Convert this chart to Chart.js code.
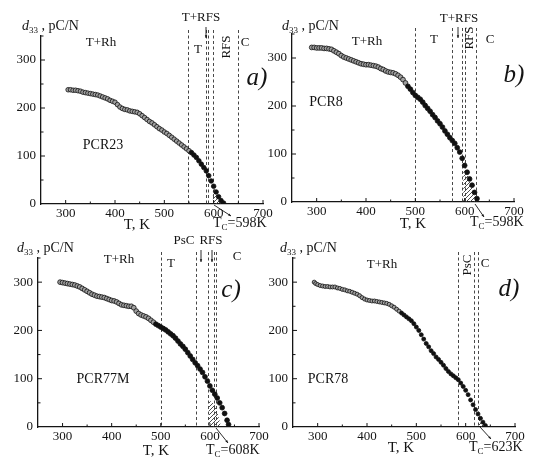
<!DOCTYPE html>
<html><head><meta charset="utf-8">
<script src="https://cdn.jsdelivr.net/npm/chart.js@4/dist/chart.umd.min.js"></script>
<style>
html,body{margin:0;padding:0;background:#fff;}
#wrap{position:relative;width:550px;height:465px;overflow:hidden;background:#fff;}
#wrap canvas{position:absolute;left:0;top:0;}
</style>
</head><body>
<div id="wrap">
<canvas id="pa" width="550" height="465"></canvas>
<canvas id="pb" width="550" height="465"></canvas>
<canvas id="pc" width="550" height="465"></canvas>
<canvas id="pd" width="550" height="465"></canvas>
</div>
<script>
// ---------- DATA ----------
const xTicksMin = 250, xTicksMax = 700, yTicksMax = 350;

// a) PCR23
const tA = [305,310,315,320,325,330,335,340,345,350,355,360,365,370,375,380,385,390,395,400,405,410,415,420,425,430,435,440,445,450,455,460,465,470,475,480,485,490,495,500,505,510,515,520,525,530,535,540,545,550,555,560,565,570,575,580,585,590,595,600,605,610,615,620];
const dA = [238,238,237,237,236,235,233,232,231,230,229,228,227,225,223,221,219,216,214,212,207,202,199,197,196,194,193,192,191,188,184,180,176,172,169,165,161,157,154,150,147,143,139,135,131,127,123,119,115,111,107,102,97,90,83,76,69,59,48,37,25,15,7,2];
const hatchTA = [598,602,606,610,614,618,621];
const hatchDA = [38,31,22,14,8,3,0];
const linesA = [548,584,589,599,650];

// b) PCR8
const tB = [290,295,300,305,310,315,320,325,330,335,340,345,350,355,360,365,370,375,380,385,390,395,400,405,410,415,420,425,430,435,440,445,450,455,460,465,470,475,480,485,490,495,500,505,510,515,520,525,530,535,540,545,550,555,560,565,570,575,580,585,590,595,600,605,610,615,620,625];
const dB = [322,322,321,321,321,320,320,319,318,315,312,309,305,302,300,298,296,294,292,290,288,287,286,286,285,284,283,281,278,276,273,271,270,269,267,264,260,255,248,241,235,228,222,218,214,208,201,195,189,182,176,169,163,156,148,141,134,128,122,113,104,91,76,62,48,35,20,7];
const hatchTB = [597,601,605,609,613,617,621,625,626];
const hatchDB = [70,66,58,48,38,27,15,3,0];
const linesB = [500,574,594,600,623];

// c) PCR77M
const tC = [295,300,305,310,315,320,325,330,335,340,345,350,355,360,365,370,375,380,385,390,395,400,405,410,415,420,425,430,435,440,445,450,455,460,465,470,475,480,485,490,495,500,505,510,515,520,525,530,535,540,545,550,555,560,565,570,575,580,585,590,595,600,605,610,615,620,625,630,635,638];
const dC = [300,299,298,297,296,295,294,292,290,287,284,281,278,275,273,271,270,269,268,266,264,262,261,259,256,253,252,251,250,250,247,240,235,232,230,228,225,221,217,213,210,207,204,201,197,193,189,184,178,172,167,161,154,147,140,133,127,120,113,104,95,85,76,68,60,50,40,28,14,5];
const hatchTC = [598,604,610,615,620,623];
const hatchDC = [55,52,45,32,12,0];
const linesC = [500,571,597,608,612];

// d) PCR78
const tD = [293,296,300,305,310,315,320,325,330,335,340,345,350,355,360,365,370,375,380,385,390,395,400,405,410,415,420,425,430,435,440,445,450,455,460,465,470,475,480,485,490,495,500,505,510,515,520,525,530,535,540,545,550,555,560,565,570,575,580,585,590,595,600,605,610,615,620,625,630,635,640];
const dD = [300,297,295,293,292,291,291,290,290,290,288,287,285,284,282,281,279,277,275,272,268,265,263,262,261,261,260,259,258,257,256,254,251,248,244,240,236,232,228,224,220,214,207,200,191,182,173,166,158,152,145,140,134,128,121,115,110,106,102,98,91,84,76,67,56,46,36,27,18,10,3];
const hatchTD = [627,631,635,639,642];
const hatchDD = [18,14,9,4,0];
const linesD = [585,617,625];

// ---------- DRAWING ----------
const FONT = '"Liberation Serif", "Times New Roman", serif';
const INK = '#141414';
const YW = 36, XH = 20;

function hatchPattern(){
  const c = document.createElement('canvas'); c.width = 4; c.height = 4;
  const g = c.getContext('2d');
  g.strokeStyle = '#3a3a3a'; g.lineWidth = 0.9;
  g.beginPath();
  for (const k of [-4,0,4]) { g.moveTo(k,4); g.lineTo(k+4,0); }
  g.stroke();
  return g.createPattern(c,'repeat');
}

function txt(ctx, s, x, y, o){
  o = o || {};
  ctx.save();
  ctx.font = (o.italic?'italic ':'') + (o.size||13) + 'px ' + FONT;
  ctx.fillStyle = INK;
  ctx.textAlign = o.align || 'center';
  ctx.textBaseline = o.base || 'middle';
  if (o.rot){ ctx.translate(x,y); ctx.rotate(-Math.PI/2); ctx.fillText(s,0,0); }
  else ctx.fillText(s,x,y);
  ctx.restore();
}
function runs(ctx, x, y, parts){
  ctx.save();
  ctx.fillStyle = INK; ctx.textAlign='left'; ctx.textBaseline='alphabetic';
  for (const p of parts){
    ctx.font = (p.italic?'italic ':'') + p.size + 'px ' + FONT;
    ctx.fillText(p.t, x, y + (p.dy||0));
    x += ctx.measureText(p.t).width;
  }
  ctx.restore();
}
function arrow(ctx, x1,y1,x2,y2, head){
  head = head || 3.5;
  ctx.save();
  ctx.strokeStyle = INK; ctx.fillStyle = INK; ctx.lineWidth = 0.9;
  ctx.beginPath(); ctx.moveTo(x1,y1); ctx.lineTo(x2,y2); ctx.stroke();
  const a = Math.atan2(y2-y1, x2-x1);
  ctx.beginPath();
  ctx.moveTo(x2,y2);
  ctx.lineTo(x2 - head*Math.cos(a-0.4), y2 - head*Math.sin(a-0.4));
  ctx.lineTo(x2 - head*Math.cos(a+0.4), y2 - head*Math.sin(a+0.4));
  ctx.closePath(); ctx.fill();
  ctx.restore();
}

const panels = [
  { id:'pa', t:tA, d:dA, ht:hatchTA, hd:hatchDA, vl:linesA, dark:555, r:2.3,
    L:41, R:263, T:36, B:204,
    d33:[22,30], tk:[137,229], tc:[213,227,'=598K'], tcLine:[214,205,231,216],
    labels:[['T+Rh',101,43],['T+RFS',201,18],['T',198,50],['RFS',227,47,1],['C',245,43]],
    arrows:[[206,27,206,38]], tag:['a)',257,78], name:['PCR23',103,145] },
  { id:'pb', t:tB, d:dB, ht:hatchTB, hd:hatchDB, vl:linesB, dark:485, r:2.4,
    L:292, R:514, T:34, B:202,
    d33:[282,30], tk:[413,228], tc:[470,226,'=598K'], tcLine:[475,204,484,217],
    labels:[['T+Rh',367,42],['T',434,40],['T+RFS',459,19],['RFS',470,38,1],['C',490,40]],
    arrows:[[458,27,458,38]], tag:['b)',514,75], name:['PCR8',326,102] },
  { id:'pc', t:tC, d:dC, ht:hatchTC, hd:hatchDC, vl:linesC, dark:490, r:2.4,
    L:38, R:259, T:258, B:427,
    d33:[17,252], tk:[156,455], tc:[206,454,'=608K'], tcLine:[216,428,228,443],
    labels:[['T+Rh',119,260],['T',171,264],['PsC',184,241],['RFS',211,241],['C',237,257]],
    arrows:[[201,250,201,262],[212,250,212,262]], tag:['c)',231,290], name:['PCR77M',103,379] },
  { id:'pd', t:tD, d:dD, ht:hatchTD, hd:hatchDD, vl:linesD, dark:470, r:2.0,
    L:293, R:515, T:258, B:427,
    d33:[280,252], tk:[401,452], tc:[469,451,'=623K'], tcLine:[480,427,491,439],
    labels:[['T+Rh',382,265],['PsC',468,265,1],['C',485,264]],
    arrows:[], tag:['d)',509,289], name:['PCR78',328,379] }
];

function makePanel(p){
  const pts = p.t.map((x,i)=>({x:x, y:p.d[i]}));
  const hatch = p.ht.map((x,i)=>({x:x, y:p.hd[i]}));
  const deco = {
    id:'deco'+p.id,
    beforeDatasetsDraw(chart){
      const ctx = chart.ctx, xs = chart.scales.x, ca = chart.chartArea;
      ctx.save();
      ctx.strokeStyle = '#333'; ctx.lineWidth = 0.9; ctx.setLineDash([3,2.5]);
      for (const v of p.vl){
        const px = Math.round(xs.getPixelForValue(v)) + 0.5;
        ctx.beginPath(); ctx.moveTo(px, ca.top - 6); ctx.lineTo(px, ca.bottom); ctx.stroke();
      }
      ctx.restore();
    },
    afterDraw(chart){
      const ctx = chart.ctx, xs = chart.scales.x, ys = chart.scales.y, ca = chart.chartArea;
      // inward ticks
      ctx.save(); ctx.strokeStyle = INK; ctx.lineWidth = 1;
      xs.ticks.forEach(t=>{
        if (t.value <= xTicksMin) return;
        const px = xs.getPixelForValue(t.value), len = t.value%100===0 ? 4 : 2.5;
        ctx.beginPath(); ctx.moveTo(px, ca.bottom); ctx.lineTo(px, ca.bottom - len); ctx.stroke();
      });
      ys.ticks.forEach(t=>{
        if (t.value <= 0) return;
        const py = ys.getPixelForValue(t.value), len = t.value%100===0 ? 4 : 2.5;
        ctx.beginPath(); ctx.moveTo(ca.left, py); ctx.lineTo(ca.left + len, py); ctx.stroke();
      });
      ctx.restore();
      // texts
      runs(ctx, p.d33[0], p.d33[1], [{t:'d',size:14,italic:true},{t:'33',size:9,dy:3},{t:' , pC/N',size:14}]);
      for (const l of p.labels) txt(ctx, l[0], l[1], l[2], {size:13, rot:!!l[3]});
      for (const a of p.arrows) arrow(ctx, a[0],a[1],a[2],a[3],3);
      txt(ctx, p.tag[0], p.tag[1], p.tag[2], {size:25, italic:true});
      txt(ctx, p.name[0], p.name[1], p.name[2], {size:14});
      txt(ctx, 'T, K', p.tk[0], p.tk[1], {size:15, base:'alphabetic'});
      runs(ctx, p.tc[0], p.tc[1], [{t:'T',size:14},{t:'C',size:9,dy:3},{t:p.tc[2],size:14}]);
      arrow(ctx, p.tcLine[0], p.tcLine[1], p.tcLine[2], p.tcLine[3], 3);
    }
  };
  new Chart(document.getElementById(p.id), {
    type:'line',
    data:{ datasets:[
      { data:hatch, showLine:true, fill:'origin', backgroundColor:hatchPattern(), borderWidth:0, borderColor:'rgba(0,0,0,0)', pointRadius:0, order:2 },
      { data:pts, showLine:false, pointRadius:p.r, pointBorderWidth:0.8, pointBorderColor:'#111',
        pointBackgroundColor:(c)=> (c.raw && c.raw.x >= p.dark) ? '#111' : '#a0a0a0', order:1 }
    ]},
    options:{
      responsive:false, animation:false, devicePixelRatio: window.devicePixelRatio || 1,
      layout:{ padding:{ left:p.L - YW, right:550 - p.R, top:p.T, bottom:465 - p.B - XH } },
      plugins:{ legend:{display:false}, tooltip:{enabled:false} },
      scales:{
        x:{ type:'linear', min:xTicksMin, max:xTicksMax,
            afterFit:(s)=>{ s.height = XH; },
            ticks:{ stepSize:50, autoSkip:false, maxRotation:0, padding:2, color:INK,
                    font:{family:FONT, size:13},
                    callback:(v)=> (v%100===0 && v>xTicksMin) ? String(v) : '' },
            grid:{ display:false, drawTicks:false, tickLength:0 }, border:{ display:true, color:INK, width:1.3 } },
        y:{ min:0, max:yTicksMax,
            afterFit:(s)=>{ s.width = YW; },
            ticks:{ stepSize:50, autoSkip:false, padding:5, color:INK,
                    font:{family:FONT, size:13},
                    callback:(v)=> (v%100===0) ? String(v) : '' },
            grid:{ display:false, drawTicks:false, tickLength:0 }, border:{ display:true, color:INK, width:1.3 } }
      }
    },
    plugins:[deco]
  });
}
panels.forEach(makePanel);
</script>
</body></html>
